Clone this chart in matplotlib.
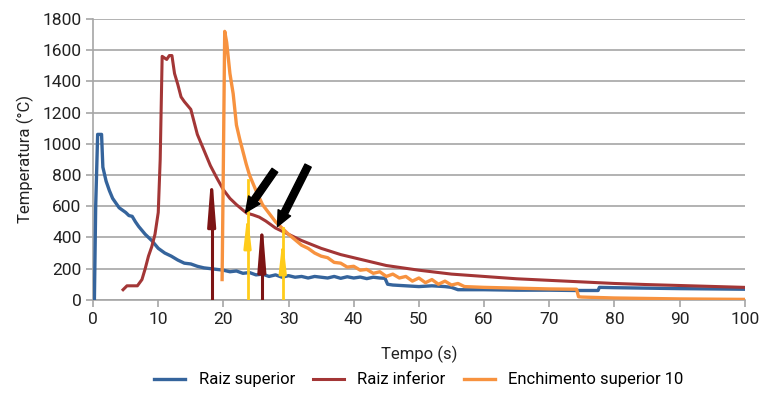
import matplotlib
matplotlib.use('Agg')
import matplotlib.pyplot as plt
import numpy as np

plt.rcParams['font.family'] = ['Roboto', 'DejaVu Sans']

# Raiz superior
sup_x = [0.2, 0.4, 0.7, 0.9, 1.3, 1.5, 2, 2.5, 3, 4, 5, 5.5, 6, 6.5, 7, 8, 9, 10, 10.5, 11, 12, 13,
         14, 15, 16, 17, 18, 19, 20, 21, 22, 23, 24, 25, 26, 27, 28, 29, 30, 31, 32, 33, 34, 35,
         36, 37, 38, 39, 40, 41, 42, 43, 44, 44.8, 45.2, 46, 48, 50, 52, 54, 55, 56, 60, 65, 70,
         74, 77.5, 77.7, 80, 85, 90, 95, 100]
sup_y = [0, 600, 1060, 1060, 1060, 850, 760, 700, 650, 590, 560, 540, 535, 500, 470, 420, 380,
         330, 315, 300, 280, 255, 235, 230, 215, 205, 200, 195, 190, 180, 185, 170, 175, 160, 165,
         150, 160, 145, 155, 145, 150, 140, 150, 145, 140, 150, 138, 148, 140, 146, 136, 145, 140,
         138, 100, 95, 90, 85, 90, 85, 80, 65, 65, 62, 62, 60, 60, 80, 78, 75, 72, 70, 68]

# Raiz inferior
inf_x = [4.6, 5.2, 6, 6.8, 7.5, 8, 8.5, 9, 9.5, 10, 10.3, 10.6, 11.3, 11.7, 12.1, 12.5, 13, 13.5,
         14, 15, 16, 17, 18, 19, 20, 21, 22, 23, 23.6, 24.5, 25.5, 26.5, 28, 30, 32, 35, 38, 40,
         45, 50, 55, 60, 65, 70, 75, 80, 85, 90, 95, 100]
inf_y = [65, 90, 90, 90, 130, 200, 280, 340, 420, 560, 900, 1560, 1540, 1565, 1565, 1450, 1380,
         1300, 1270, 1220, 1060, 960, 860, 780, 705, 650, 610, 575, 555, 545, 530, 505, 460, 420,
         380, 330, 290, 270, 220, 190, 165, 150, 135, 125, 115, 105, 98, 92, 86, 80]

# Enchimento superior 10
enc_x = [19.8, 20.0, 20.2, 20.5, 21, 21.5, 22, 22.5, 23, 23.5, 24, 25, 26, 27, 28, 29, 30, 31, 32,
         33, 34, 35, 36, 37, 38, 39, 40, 41, 42, 43, 44, 45, 46, 47, 48, 49, 50, 51, 52, 53, 54,
         55, 56, 57, 60, 65, 70, 74.2, 74.5, 75, 80, 90, 100]
enc_y = [130, 900, 1720, 1650, 1450, 1320, 1120, 1030, 950, 870, 800, 700, 610, 555, 500, 460,
         420, 385, 350, 330, 300, 280, 270, 240, 235, 210, 215, 190, 195, 170, 180, 150, 165, 140,
         150, 120, 140, 110, 130, 100, 120, 95, 105, 85, 80, 75, 70, 68, 20, 18, 12, 6, 3]

# vertical markers: (x, top)
red_arrows = [(18.2, 770), (25.9, 480)]
yellow_lines = [(23.7, 770, 560), (29.1, 460, 400)]
# black arrows: (start x, start y, tip x, tip y)
black_arrows = [(27.9, 830, 23.4, 560), (33.0, 860, 28.3, 470)]

fig = plt.figure(figsize=(7.63, 3.93), dpi=100)
ax = fig.add_axes([0.122, 0.237, 0.854, 0.715])

ax.plot(sup_x, sup_y, color='#35649c', lw=2.4, label='Raiz superior', zorder=3)
ax.plot(inf_x, inf_y, color='#a33636', lw=2.2, label='Raiz inferior', zorder=3)
ax.plot(enc_x, enc_y, color='#f7923f', lw=2.4, label='Enchimento superior 10', zorder=4)

for x, top in red_arrows:
    ax.plot([x, x], [0, top - 200], color='#7d1414', lw=2.2, zorder=5)
    ax.annotate('', xy=(x, top + 60), xytext=(x, top - 260),
                arrowprops=dict(arrowstyle='-|>,head_length=2.8,head_width=0.22',
                                color='#7d1414', lw=2.2, shrinkA=0, shrinkB=0), zorder=5)
for x, top, head in yellow_lines:
    ax.plot([x, x], [0, top], color='#ffcc1a', lw=2, zorder=5)
    ax.annotate('', xy=(x, head), xytext=(x, head - 150),
                arrowprops=dict(arrowstyle='-|>,head_length=1.8,head_width=0.2',
                                color='#ffcc1a', lw=2, shrinkA=0, shrinkB=0), zorder=5)
for x0, y0, x1, y1 in black_arrows:
    ax.annotate('', xy=(x1, y1), xytext=(x0, y0),
                arrowprops=dict(arrowstyle='simple,head_length=1.1,head_width=1.0,tail_width=0.5',
                                color='black', shrinkA=0, shrinkB=0), zorder=6)

ax.set_xlim(0, 100)
ax.set_ylim(0, 1800)
ax.set_xticks(np.arange(0, 101, 10))
ax.set_yticks(np.arange(0, 1801, 200))
ax.yaxis.grid(True, color='#a6a6a6', lw=1.2)
ax.set_axisbelow(True)
for s in ['top', 'right']:
    ax.spines[s].set_visible(False)
for s in ['left', 'bottom']:
    ax.spines[s].set_color('#a6a6a6')
    ax.spines[s].set_linewidth(1.2)
ax.tick_params(axis='both', colors='#a6a6a6', labelcolor='#222222', labelsize=12.5, length=5, width=1.2)

ax.set_xlabel('Tempo (s)', fontsize=12, color='#222222', labelpad=14)
ax.set_ylabel('Temperatura (°C)', fontsize=12, color='#222222', labelpad=6)

ax.legend(loc='center', bbox_to_anchor=(0.5, -0.285), ncol=3, frameon=False,
          fontsize=12, handlelength=1.85, handletextpad=0.8, columnspacing=1.1)

fig.savefig('out.png', dpi=100)
